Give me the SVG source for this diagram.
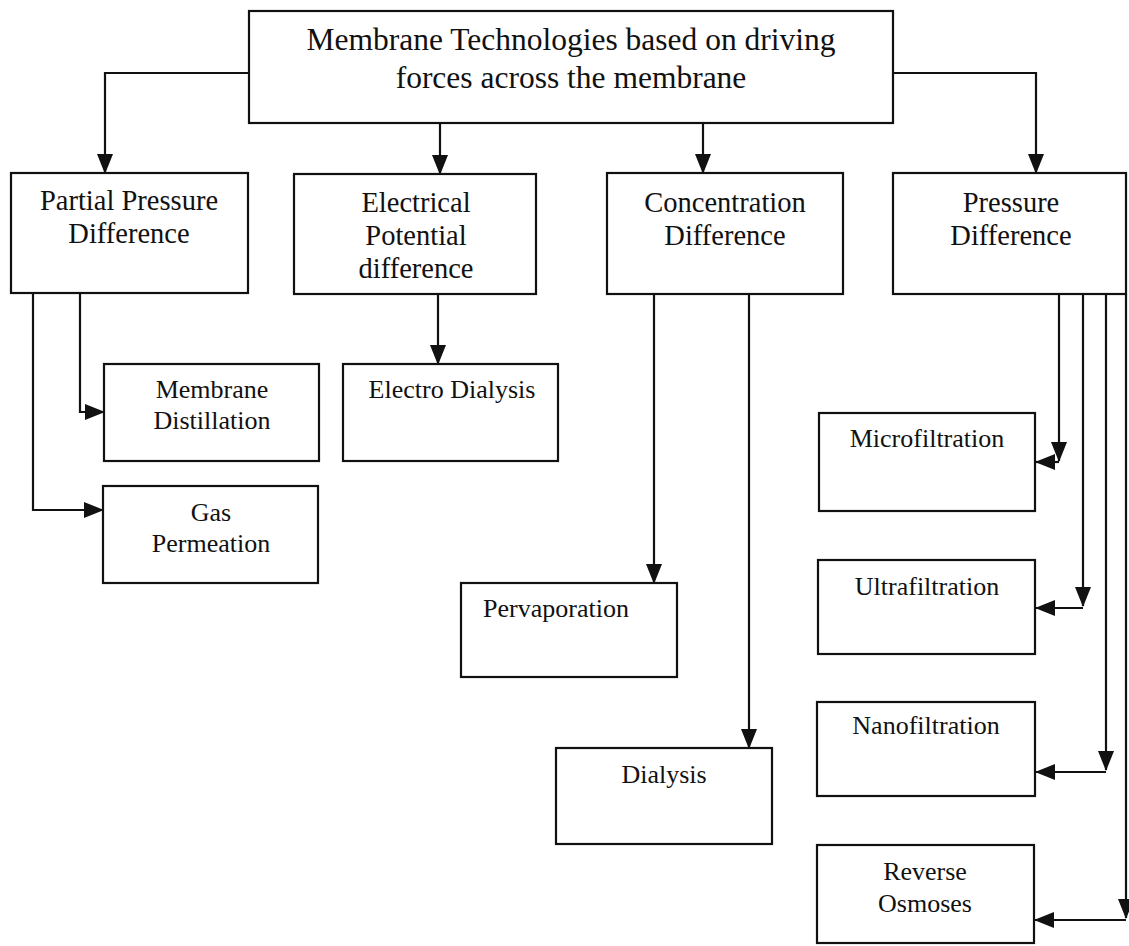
<svg xmlns="http://www.w3.org/2000/svg" width="1129" height="946" viewBox="0 0 1129 946">
  <style>
    .box { fill: #ffffff; stroke: #111111; stroke-width: 2.2; }
    .wire { fill: none; stroke: #111111; stroke-width: 2.2; marker-end: url(#arrow); }
    text { font-family: "Liberation Serif", "Times New Roman", serif; fill: #111111; text-anchor: middle; }
    .title { font-size: 31.5px; }
    .cat { font-size: 28.5px; }
    .leaf { font-size: 26px; }
  </style>
  <defs>
    <marker id="arrow" markerUnits="userSpaceOnUse" markerWidth="20" markerHeight="16" refX="19" refY="8" orient="auto">
      <path d="M0,0 L20,8 L0,16 z" fill="#111111"/>
    </marker>
  </defs>
  <rect width="1129" height="946" fill="#ffffff"/>

  <g id="connectors">
    <path class="wire" d="M249,73 H105 V173"/>
    <path class="wire" d="M440,123 V174"/>
    <path class="wire" d="M703,123 V173"/>
    <path class="wire" d="M893,73 H1036 V173"/>
    <path class="wire" d="M33,293 V510 H103"/>
    <path class="wire" d="M80,293 V412 H104"/>
    <path class="wire" d="M438,294 V364"/>
    <path class="wire" d="M654,294 V583"/>
    <path class="wire" d="M749,294 V748"/>
    <path class="wire" d="M1059,294 V461"/>
    <path class="wire" d="M1059,462 H1036"/>
    <path class="wire" d="M1083,294 V606"/>
    <path class="wire" d="M1083,608 H1036"/>
    <path class="wire" d="M1106,294 V770"/>
    <path class="wire" d="M1106,772 H1036"/>
    <path class="wire" d="M1126,294 V918"/>
    <path class="wire" d="M1126,920 H1035"/>
  </g>

  <g id="root">
    <rect class="box" x="249" y="11" width="644" height="112"/>
    <text class="title" x="571" y="50">Membrane Technologies based on driving</text>
    <text class="title" x="571" y="88">forces across the membrane</text>
  </g>

  <g id="partial-pressure">
    <rect class="box" x="11" y="173" width="237" height="120"/>
    <text class="cat" x="129" y="210">Partial Pressure</text>
    <text class="cat" x="129" y="243">Difference</text>
  </g>

  <g id="electrical-potential">
    <rect class="box" x="294" y="174" width="242" height="120"/>
    <text class="cat" x="416" y="212">Electrical</text>
    <text class="cat" x="416" y="245">Potential</text>
    <text class="cat" x="416" y="278">difference</text>
  </g>

  <g id="concentration">
    <rect class="box" x="607" y="173" width="236" height="121"/>
    <text class="cat" x="725" y="212">Concentration</text>
    <text class="cat" x="725" y="245">Difference</text>
  </g>

  <g id="pressure">
    <rect class="box" x="893" y="173" width="233" height="121"/>
    <text class="cat" x="1011" y="212">Pressure</text>
    <text class="cat" x="1011" y="245">Difference</text>
  </g>

  <g id="membrane-distillation">
    <rect class="box" x="104" y="364" width="215" height="97"/>
    <text class="leaf" x="212" y="398">Membrane</text>
    <text class="leaf" x="212" y="429">Distillation</text>
  </g>

  <g id="gas-permeation">
    <rect class="box" x="103" y="486" width="215" height="97"/>
    <text class="leaf" x="211" y="521">Gas</text>
    <text class="leaf" x="211" y="552">Permeation</text>
  </g>

  <g id="electro-dialysis">
    <rect class="box" x="343" y="364" width="215" height="97"/>
    <text class="leaf" x="452" y="398">Electro Dialysis</text>
  </g>

  <g id="pervaporation">
    <rect class="box" x="461" y="583" width="216" height="94"/>
    <text class="leaf" x="556" y="617">Pervaporation</text>
  </g>

  <g id="dialysis">
    <rect class="box" x="556" y="748" width="216" height="96"/>
    <text class="leaf" x="664" y="783">Dialysis</text>
  </g>

  <g id="microfiltration">
    <rect class="box" x="819" y="413" width="216" height="98"/>
    <text class="leaf" x="927" y="447">Microfiltration</text>
  </g>

  <g id="ultrafiltration">
    <rect class="box" x="818" y="560" width="217" height="94"/>
    <text class="leaf" x="927" y="595">Ultrafiltration</text>
  </g>

  <g id="nanofiltration">
    <rect class="box" x="817" y="702" width="218" height="94"/>
    <text class="leaf" x="926" y="734">Nanofiltration</text>
  </g>

  <g id="reverse-osmoses">
    <rect class="box" x="817" y="845" width="217" height="98"/>
    <text class="leaf" x="925" y="880">Reverse</text>
    <text class="leaf" x="925" y="912">Osmoses</text>
  </g>
</svg>
